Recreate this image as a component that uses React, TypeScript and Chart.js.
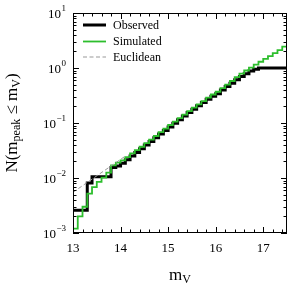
import { useEffect, useRef } from 'react';
import { Chart, registerables } from 'chart.js';

Chart.register(...registerables);

// Bin left edges (m_V) and the closing edge
const MAG_BINS = [
  13.0, 13.1, 13.2, 13.3, 13.4, 13.5, 13.6, 13.7, 13.8, 13.9,
  14.0, 14.1, 14.2, 14.3, 14.4, 14.5, 14.6, 14.7, 14.8, 14.9,
  15.0, 15.1, 15.2, 15.3, 15.4, 15.5, 15.6, 15.7, 15.8, 15.9,
  16.0, 16.1, 16.2, 16.3, 16.4, 16.5, 16.6, 16.7, 16.8, 16.9,
  17.0, 17.1, 17.2, 17.3, 17.4,
];
const MAG_END = 17.5;

const OBSERVED = [
  0.0026, 0.0026, 0.0026, 0.0081, 0.0105, 0.0105, 0.0105, 0.0105, 0.0155, 0.0165,
  0.0186, 0.0215, 0.025, 0.029, 0.034, 0.040, 0.046, 0.054, 0.063, 0.073,
  0.085, 0.099, 0.115, 0.134, 0.155, 0.178, 0.205, 0.235, 0.27, 0.305,
  0.34, 0.40, 0.46, 0.53, 0.61, 0.70, 0.79, 0.88, 0.95, 1.0,
  1.0, 1.0, 1.0, 1.0, 1.0,
];

const SIMULATED = [
  0.0012, 0.002, 0.003, 0.0052, 0.0068, 0.0085, 0.0102, 0.0125, 0.017, 0.019,
  0.021, 0.024, 0.028, 0.032, 0.037, 0.043, 0.050, 0.058, 0.068, 0.079,
  0.092, 0.106, 0.123, 0.142, 0.164, 0.19, 0.218, 0.25, 0.29, 0.33,
  0.37, 0.43, 0.50, 0.58, 0.68, 0.79, 0.90, 1.02, 1.15, 1.30,
  1.46, 1.65, 1.87, 2.12, 2.45,
];

const EUCLID_MAG = [13.0, 14.1];
const EUCLID_N = [0.0055, 0.025];

const X_TICKS = [13, 14, 15, 16, 17];
const Y_TICKS = [0.001, 0.01, 0.1, 1, 10];
const Y_TICK_EXPONENTS = ['−3', '−2', '−1', '0', '1'];

const LEGEND_LABELS = ['Observed', 'Simulated', 'Euclidean'];
const GREEN = '#2dbe2d';
const FONT = '"Liberation Serif", "DejaVu Serif", serif';

const stepPoints = (vals: number[]) => [
  ...MAG_BINS.map((m, i) => ({ x: m, y: vals[i] })),
  { x: MAG_END, y: vals[vals.length - 1] },
];

const decor = {
  id: 'decor',
  afterDatasetsDraw(chart: any) {
    const { ctx, chartArea: a, scales } = chart;
    const xs = scales.x;
    const ys = scales.y;
    ctx.save();
    ctx.strokeStyle = '#000';
    ctx.lineWidth = 1;
    ctx.setLineDash([]);
    ctx.beginPath();
    // x ticks (bottom & top, inward)
    for (let k = 0; k <= 22; k++) {
      const v = 13 + 0.2 * k;
      const len = k % 5 === 0 ? 6 : 3.5;
      const px = Math.round(xs.getPixelForValue(v)) + 0.5;
      ctx.moveTo(px, a.bottom);
      ctx.lineTo(px, a.bottom - len);
      ctx.moveTo(px, a.top);
      ctx.lineTo(px, a.top + len);
    }
    // y ticks (left & right, inward)
    for (let e = -3; e <= 1; e++) {
      for (let d = 1; d <= 9; d++) {
        if (e === 1 && d > 1) break;
        const v = d * Math.pow(10, e);
        const len = d === 1 ? 6 : 3.5;
        const py = Math.round(ys.getPixelForValue(v)) + 0.5;
        ctx.moveTo(a.left, py);
        ctx.lineTo(a.left + len, py);
        ctx.moveTo(a.right, py);
        ctx.lineTo(a.right - len, py);
      }
    }
    ctx.stroke();
    // frame
    ctx.strokeRect(Math.round(a.left) + 0.5, Math.round(a.top) + 0.5,
      Math.round(a.right - a.left) - 1, Math.round(a.bottom - a.top) - 1);

    // y tick labels with superscripts
    ctx.fillStyle = '#000';
    ctx.textAlign = 'right';
    ctx.textBaseline = 'alphabetic';
    Y_TICKS.forEach((v, i) => {
      const py = ys.getPixelForValue(v);
      const xr = a.left - 7;
      ctx.font = `9px ${FONT}`;
      const ew = ctx.measureText(Y_TICK_EXPONENTS[i]).width;
      ctx.fillText(Y_TICK_EXPONENTS[i], xr, py - 2.5);
      ctx.font = `13px ${FONT}`;
      ctx.fillText('10', xr - ew - 0.5, py + 4.5);
    });

    // legend
    const rows = [25, 41.5, 57];
    const styles = [
      { c: '#000', w: 3, dash: [] as number[] },
      { c: GREEN, w: 1.8, dash: [] as number[] },
      { c: '#999', w: 1, dash: [4, 2.5] },
    ];
    ctx.textAlign = 'left';
    ctx.textBaseline = 'middle';
    ctx.font = `12px ${FONT}`;
    LEGEND_LABELS.forEach((lab, i) => {
      const s = styles[i];
      ctx.strokeStyle = s.c;
      ctx.lineWidth = s.w;
      ctx.setLineDash(s.dash);
      ctx.beginPath();
      ctx.moveTo(83, rows[i]);
      ctx.lineTo(106, rows[i]);
      ctx.stroke();
      ctx.setLineDash([]);
      ctx.fillStyle = '#000';
      ctx.fillText(lab, 113, rows[i] + 0.5);
    });

    // axis titles with subscripts
    const drawSegs = (segs: { t: string; s: number; dy: number }[], cx: number, base: number) => {
      let total = 0;
      segs.forEach((g) => {
        ctx.font = `${g.s}px ${FONT}`;
        total += ctx.measureText(g.t).width;
      });
      let x = cx - total / 2;
      segs.forEach((g) => {
        ctx.font = `${g.s}px ${FONT}`;
        ctx.fillText(g.t, x, base + g.dy);
        x += ctx.measureText(g.t).width;
      });
    };
    ctx.textAlign = 'left';
    ctx.textBaseline = 'alphabetic';
    ctx.fillStyle = '#000';
    drawSegs([
      { t: 'm', s: 17, dy: 0 },
      { t: 'V', s: 12, dy: 3 },
    ], (a.left + a.right) / 2, 280);

    ctx.save();
    ctx.translate(12, (a.top + a.bottom) / 2);
    ctx.rotate(-Math.PI / 2);
    drawSegs([
      { t: 'N(m', s: 17, dy: 0 },
      { t: 'peak', s: 12, dy: 3 },
      { t: ' ≤ m', s: 17, dy: 0 },
      { t: 'V', s: 12, dy: 3 },
      { t: ')', s: 17, dy: 0 },
    ], 0, 5);
    ctx.restore();

    ctx.restore();
  },
};

export default function App() {
  const ref = useRef<HTMLCanvasElement | null>(null);
  useEffect(() => {
    if (!ref.current) return;
    const chart = new Chart(ref.current, {
      type: 'line',
      data: {
        datasets: [
          {
            label: LEGEND_LABELS[0],
            data: stepPoints(OBSERVED),
            borderColor: '#000',
            borderWidth: 3,
            stepped: 'before',
            pointRadius: 0,
            fill: false,
            order: 3,
            borderJoinStyle: 'miter',
            borderCapStyle: 'butt',
          },
          {
            label: LEGEND_LABELS[1],
            data: stepPoints(SIMULATED),
            borderColor: GREEN,
            borderWidth: 1.8,
            stepped: 'before',
            pointRadius: 0,
            fill: false,
            order: 2,
            borderJoinStyle: 'miter',
            borderCapStyle: 'butt',
          },
          {
            label: LEGEND_LABELS[2],
            data: EUCLID_MAG.map((m, i) => ({ x: m, y: EUCLID_N[i] })),
            borderColor: '#999',
            borderWidth: 1,
            borderDash: [4, 2.5],
            pointRadius: 0,
            fill: false,
            order: 1,
          },
        ],
      } as any,
      options: {
        responsive: false,
        animation: false,
        devicePixelRatio: 1,
        layout: { padding: { left: 0, right: 6, top: 13, bottom: 0 } },
        plugins: { legend: { display: false }, tooltip: { enabled: false } },
        scales: {
          x: {
            type: 'linear',
            min: 13,
            max: 17.5,
            grid: { display: false, drawTicks: false },
            border: { display: false },
            ticks: {
              font: { family: FONT, size: 13 },
              color: '#000',
              padding: 8,
              maxRotation: 0,
              callback: (v: any) => String(v),
            },
            afterBuildTicks: (s: any) => {
              s.ticks = X_TICKS.map((v) => ({ value: v }));
            },
            afterFit: (s: any) => {
              s.height = 59;
            },
          },
          y: {
            type: 'logarithmic',
            min: 0.001,
            max: 10,
            grid: { display: false, drawTicks: false },
            border: { display: false },
            ticks: { display: false },
            afterBuildTicks: (s: any) => {
              s.ticks = Y_TICKS.map((v) => ({ value: v }));
            },
            afterFit: (s: any) => {
              s.width = 73;
            },
          },
        },
      } as any,
      plugins: [decor],
    });
    return () => chart.destroy();
  }, []);
  return (
    <div style={{ position: 'fixed', left: 0, top: 0, width: 293, height: 292, background: '#fff' }}>
      <canvas ref={ref} width={293} height={292} style={{ display: 'block' }} />
    </div>
  );
}
